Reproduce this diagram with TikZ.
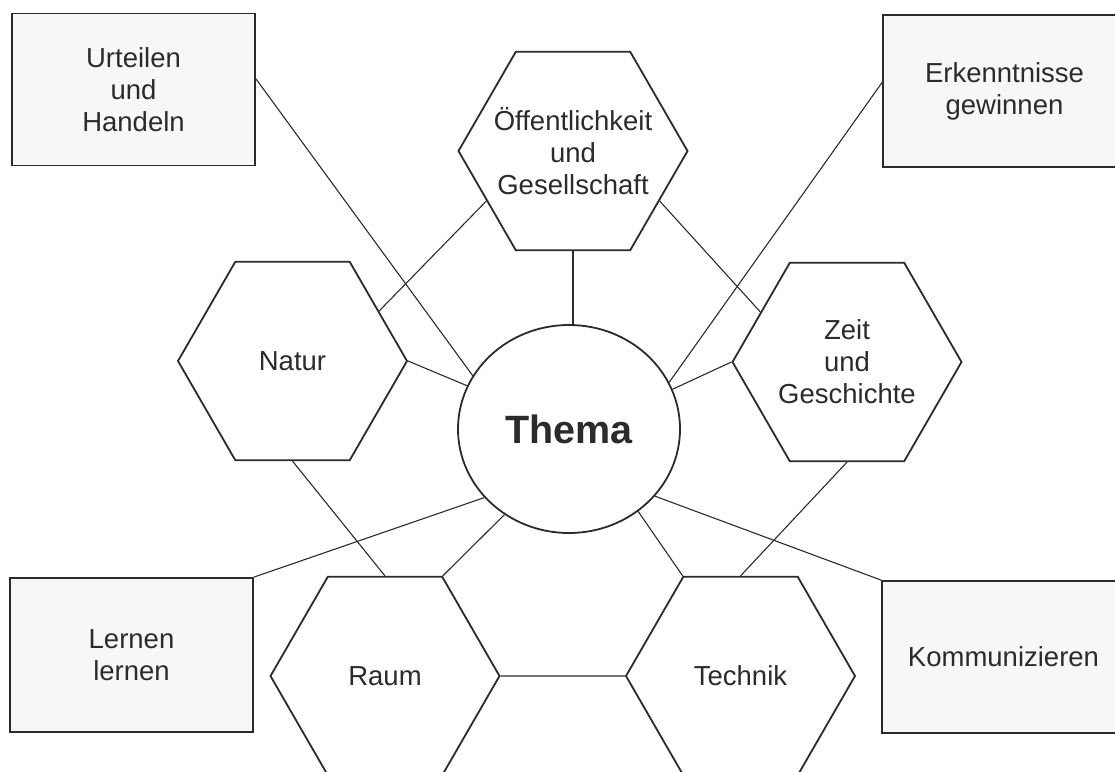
\documentclass[tikz,border=0pt]{standalone}
\usepackage{fontspec}
\setmainfont{Liberation Sans}
\usetikzlibrary{shapes.geometric}
\definecolor{ink}{HTML}{2B2B2B}
\tikzstyle{hexa}=[draw=ink, line width=1.8pt, fill=white, regular polygon, regular polygon sides=6, minimum size=229pt, inner sep=-22pt, align=center, text=ink, font=\fontsize{27.5}{32}\selectfont]
\tikzstyle{kbox}=[draw=ink, line width=1.8pt, fill=black!3, minimum width=243pt, minimum height=152pt, inner sep=0pt, align=center, text=ink, font=\fontsize{27.5}{32}\selectfont]
\tikzstyle{link}=[ink, line width=1.1pt]

\begin{document}
\begin{tikzpicture}[x=1pt, y=-1pt]
    \useasboundingbox (0,0) rectangle (1115,771);
    \clip (0,0) rectangle (1115,771);
    \node[kbox] (UH) at (133.5, 89.5) {Urteilen\\und\\Handeln};
    \node[kbox] (EG) at (1004.5, 91) {Erkenntnisse\\gewinnen};
    \node[kbox, minimum height=154pt] (LL) at (131.5, 655) {Lernen\\lernen};
    \node[kbox] (Ko) at (1003.5, 657) {Kommunizieren};
    \node[hexa] (Oe) at (573, 151) {Öffentlichkeit\\und\\Gesellschaft};
    \node[hexa] (Na) at (292.5, 361) {Natur};
    \node[hexa] (Ze) at (847, 362) {Zeit\\und\\Geschichte};
    \node[hexa] (Ra) at (385, 676) {Raum};
    \node[hexa] (Te) at (740.5, 676) {Technik};
    \node[ellipse, draw=ink, line width=1.8pt, fill=white, minimum width=222pt, minimum height=208pt, text=ink, font=\bfseries\fontsize{39.5}{44}\selectfont] (Th) at (569, 429) {Thema};
    \draw[link] (Oe.270) -- (Oe.270 |- Th.north);
    \draw[link] (Oe.210) -- (Na.30);
    \draw[link] (Oe.330) -- (Ze.150);
    \draw[link] (Na.270) -- (Ra.90);
    \draw[link] (Ze.270) -- (Te.90);
    \draw[link] (Ra.0) -- (Te.180);
    \draw[link] (Na.0) -- (Th.157);
    \draw[link] (Ze.180) -- (Th.21);
    \draw[link] (Ra.60) -- (Th.233);
    \draw[link] (Te.120) -- (Th.310);
    \draw[link] (UH.5) -- (Th.151);
    \draw[link] (EG.176) -- (Th.25);
    \draw[link] (LL.north east) -- (Th.219);
    \draw[link] (Ko.north west) -- (Th.322);
\end{tikzpicture}
\end{document}
